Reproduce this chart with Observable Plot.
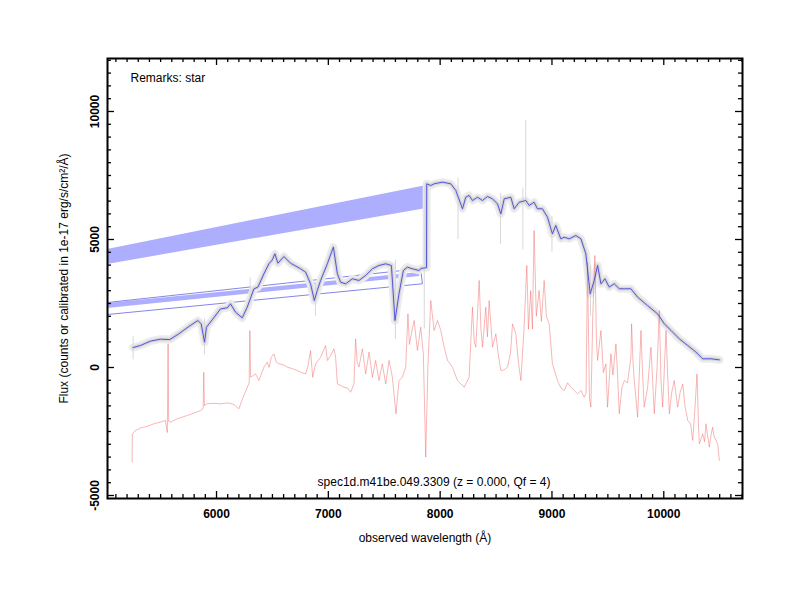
<!DOCTYPE html>
<html>
<head>
<meta charset="utf-8">
<script src="https://cdn.jsdelivr.net/npm/d3@7"></script>
<script src="https://cdn.jsdelivr.net/npm/@observablehq/plot@0.6"></script>
<style>
  html, body { margin: 0; padding: 0; background: #fff; }
  #chart { width: 800px; height: 600px; }
</style>
</head>
<body>
<div id="chart"></div>
<script>
// ---- data ----
const blueWave = [5254,5320,5409,5499,5582,5663,5752,5833,5863,5893,5910,5961,6036,6096,6125,6170,6230,6275,6334,6370,6424,6468,6499,6522,6549,6603,6662,6752,6797,6841,6875,6901,6931,6991,7045,7081,7110,7155,7215,7274,7334,7394,7453,7513,7564,7596,7632,7671,7707,7752,7811,7830,7878,7880,7916,7946,8020,8095,8140,8200,8229,8259,8289,8334,8379,8423,8468,8513,8543,8573,8632,8662,8707,8766,8796,8840,8870,8915,8960,9004,9034,9079,9109,9154,9214,9259,9303,9342,9378,9408,9438,9474,9512,9557,9602,9647,9706,9766,9855,9945,10005,10065,10139,10214,10288,10348,10422,10497];
const blueFlux = [780,860,1030,1106,1090,1315,1600,1835,1705,990,1575,1860,2290,2330,2490,2160,1940,2360,3070,3140,3660,4050,4205,4440,4075,4335,4075,3855,3725,3270,2615,3010,3400,4050,4700,3660,3330,3270,3465,3400,3595,3855,3985,4050,3985,1835,2880,3790,3920,3855,3790,3870,3900,7175,7110,7175,7240,7175,6915,6200,6650,6720,6525,6650,6525,6680,6590,6390,6005,6590,6650,6200,6455,6525,6330,6455,6200,6200,5870,5220,5545,5025,5090,5025,5155,5025,4440,2880,3400,3985,3270,3465,3140,3270,3075,3075,3075,2750,2420,2095,1705,1445,1120,860,600,340,340,300];

const redWave = [5245,5247,5270,5320,5380,5439,5500,5543,5560,5567,5572,5588,5650,5738,5800,5857,5880,5886,5892,5910,5970,6036,6100,6155,6200,6244,6275,6292,6298,6305,6349,6379,6424,6454,6470,6490,6513,6535,6558,6600,6632,6680,6722,6760,6797,6820,6841,6860,6886,6931,6976,6991,7021,7050,7065,7081,7110,7140,7170,7200,7229,7244,7258,7274,7304,7334,7364,7394,7423,7453,7483,7513,7543,7573,7605,7632,7662,7692,7712,7725,7737,7767,7797,7826,7850,7871,7890,7916,7946,7976,8006,8036,8066,8110,8155,8215,8259,8289,8305,8319,8349,8365,8379,8408,8423,8438,8468,8498,8520,8543,8570,8603,8630,8647,8677,8700,8722,8750,8775,8790,8810,8825,8840,8860,8885,8905,8930,8950,8975,9004,9049,9080,9109,9140,9169,9200,9229,9260,9288,9305,9318,9335,9348,9365,9384,9398,9408,9438,9460,9482,9497,9527,9545,9572,9587,9602,9625,9647,9675,9706,9712,9725,9736,9766,9796,9810,9825,9855,9885,9900,9915,9940,9960,9975,9990,10020,10035,10050,10070,10094,10124,10145,10169,10190,10214,10240,10259,10280,10297,10310,10318,10348,10365,10377,10407,10420,10437,10450,10467,10482,10497];
const redFlux = [-3700,-2600,-2480,-2360,-2300,-2200,-2130,-2070,-2540,925,-2100,-2135,-2000,-1875,-1780,-1680,-1600,-185,-1500,-1420,-1400,-1420,-1380,-1445,-1615,-1095,-770,-600,1445,-380,-250,-510,15,210,0,400,535,200,145,100,15,-50,-115,-200,-250,100,665,-380,145,400,860,275,470,730,400,-640,-700,-770,-800,-965,-640,1120,200,15,730,-250,600,-380,275,-510,145,-640,275,-380,-1810,-510,-380,15,2095,900,1185,1835,665,1575,500,-3500,0,2615,1445,1835,1445,795,275,15,-510,-770,-380,2355,1000,795,3400,1500,795,2355,1200,2615,795,1315,500,-115,-100,15,600,1705,1315,200,-510,1500,3985,1500,3000,1500,5350,2000,3010,1800,3400,2000,1705,145,-510,-800,-900,-600,-770,-900,-1030,-900,-1160,-1000,4115,-1200,-1550,2000,4375,1000,275,1445,-200,145,-1550,535,-300,925,-300,-1810,-800,-510,-600,400,1705,200,-510,-1940,1445,-200,-1550,-800,795,-500,-1810,0,2225,-500,-1550,1445,-300,-1810,-1000,-510,-1550,-1000,-640,-1500,-2070,-2200,-2850,-1500,-250,-2200,-2980,-2590,-2900,-2200,-3110,-2700,-2330,-2700,-2850,-3000,-3630];

// gray raw-flux spikes (wavelength, low, high)
const spikeWave = [5254,5893,6300,6885,7600,7858,8160,8540,8740,8765,9000,9345];
const spikeLo   = [300,500,2500,2000,1100,1500,5000,4800,4600,6300,4500,2000];
const spikeHi   = [1200,1900,3500,3300,4200,7100,7400,6800,7000,9650,5900,4000];

// error-band polygons (wavelength, lower, upper)
const bandWideWave = [5025,7880];
const bandWideLo   = [4023,6211];
const bandWideHi   = [4610,7110];
const bandThinWave = [5025,7817];
const bandThinLo   = [2305,3555];
const bandThinHi   = [2500,3710];
// thin outline box
const boxWave = [5025,7826,7841,5025];
const boxFlux = [2540,3867,3270,2070];

const xMajor = [6000,7000,8000,9000,10000];
const yMajor = [-5000,0,5000,10000];
const xMinor = d3.range(5100,10701,100).filter(v => v % 1000 !== 0);
const yMinor = d3.range(-5000,12001,500).filter(v => v % 5000 !== 0);

const xDomain = [5025,10704];
const yDomain = [-5117,12070];

const zip2 = (a,b) => a.map((v,i) => ({x:v, y:b[i]}));
const zip3 = (a,b,c) => a.map((v,i) => ({x:v, lo:b[i], hi:c[i]}));

const blue = zip2(blueWave, blueFlux);
const red = zip2(redWave, redFlux);
const spikes = zip3(spikeWave, spikeLo, spikeHi);
const bandWide = zip3(bandWideWave, bandWideLo, bandWideHi);
const bandThin = zip3(bandThinWave, bandThinLo, bandThinHi);
const box = zip2(boxWave, boxFlux);

const font = "Liberation Sans, Arial, Helvetica, sans-serif";
const tk = {stroke:"#000", strokeWidth:1.3};

const chart = Plot.plot({
  width: 800, height: 600,
  marginLeft: 107, marginRight: 58, marginTop: 58, marginBottom: 102,
  style: {fontFamily: font, background: "#fff"},
  x: {domain: xDomain, axis: null},
  y: {domain: yDomain, axis: null},
  marks: [
    // error bands
    Plot.areaY(bandWide, {x:"x", y1:"lo", y2:"hi", fill:"#aeaeff"}),
    Plot.areaY(bandThin, {x:"x", y1:"lo", y2:"hi", fill:"#aeaeff"}),
    Plot.line(box, {x:"x", y:"y", stroke:"#5050e0", strokeWidth:0.7}),
    // gray raw flux (noisy envelope)
    Plot.line(blue, {x:"x", y:"y", stroke:"#ececec", strokeWidth:8, strokeLinejoin:"round"}),
    Plot.line(blue, {x:"x", y:"y", stroke:"#d6d6d6", strokeWidth:3.5, strokeLinejoin:"round"}),
    Plot.ruleX(spikes, {x:"x", y1:"lo", y2:"hi", stroke:"#d8d8d8", strokeWidth:1}),
    // red spectrum
    Plot.line(red, {x:"x", y:"y", stroke:"#f06a6a", strokeWidth:0.7, strokeOpacity:0.7}),
    // blue smoothed spectrum
    Plot.line(blue, {x:"x", y:"y", stroke:"#4646dc", strokeWidth:0.9}),
    // ticks (inward)
    Plot.ruleX(xMajor, {x:d=>d, y1:yDomain[0], y2:yDomain[0], insetTop:-7, ...tk}),
    Plot.ruleX(xMinor, {x:d=>d, y1:yDomain[0], y2:yDomain[0], insetTop:-4, ...tk}),
    Plot.ruleX(xMajor, {x:d=>d, y1:yDomain[1], y2:yDomain[1], insetBottom:-7, ...tk}),
    Plot.ruleX(xMinor, {x:d=>d, y1:yDomain[1], y2:yDomain[1], insetBottom:-4, ...tk}),
    Plot.ruleY(yMajor, {y:d=>d, x1:xDomain[0], x2:xDomain[0], insetRight:-7, ...tk}),
    Plot.ruleY(yMinor, {y:d=>d, x1:xDomain[0], x2:xDomain[0], insetRight:-4, ...tk}),
    Plot.ruleY(yMajor, {y:d=>d, x1:xDomain[1], x2:xDomain[1], insetLeft:-7, ...tk}),
    Plot.ruleY(yMinor, {y:d=>d, x1:xDomain[1], x2:xDomain[1], insetLeft:-4, ...tk}),
    Plot.frame({stroke:"#000", strokeWidth:2}),
    // tick labels
    Plot.text(xMajor, {x:d=>d, y:yDomain[0], dy:16, text:d=>String(d), fontSize:12, fontWeight:"bold", fill:"#000"}),
    Plot.text(yMajor, {x:xDomain[0], y:d=>d, dx:-12, rotate:-90, text:d=>String(d), fontSize:12, fontWeight:"bold", fill:"#000"}),
    // annotations
    Plot.text(["Remarks: star"], {frameAnchor:"top-left", dx:23, dy:15, textAnchor:"start", text:d=>d, fontSize:12, fill:"#000"}),
    Plot.text(["spec1d.m41be.049.3309 (z = 0.000, Qf = 4)"], {frameAnchor:"bottom", dx:9, dy:-13, text:d=>d, fontSize:12, fill:"#000"}),
    Plot.text(["observed wavelength (Å)"], {frameAnchor:"bottom", dy:43, text:d=>d, fontSize:12, fill:"#000"}),
    Plot.text(["Flux (counts or calibrated in 1e-17 erg/s/cm²/Å)"], {frameAnchor:"left", dx:-43, rotate:-90, textAnchor:"middle", text:d=>d, fontSize:12, fill:"#000"})
  ]
});
document.getElementById("chart").appendChild(chart);
</script>
</body>
</html>
